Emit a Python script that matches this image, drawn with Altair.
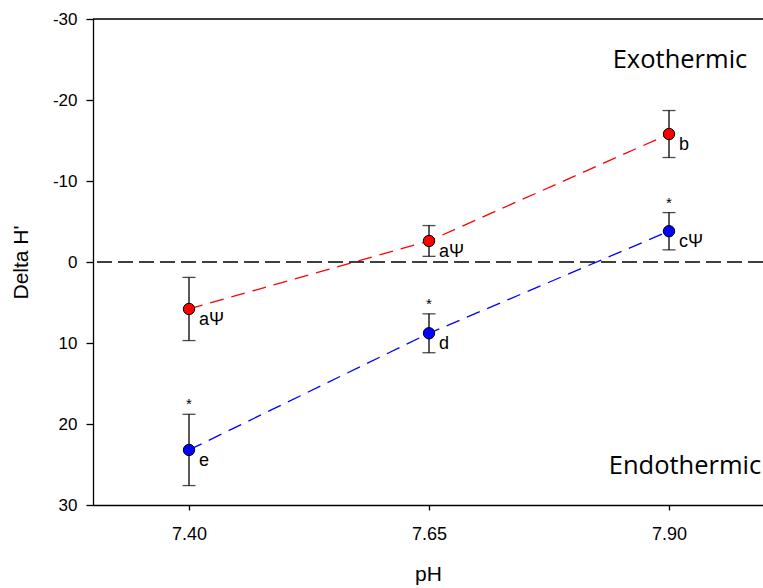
import altair as alt
import pandas as pd

ph = [7.40, 7.65, 7.90]
red_mean = [5.8, -2.6, -15.8]
red_err = [3.9, 1.9, 2.9]
red_lab = ["aΨ", "aΨ", "b"]
blue_mean = [23.2, 8.8, -3.8]
blue_err = [4.4, 2.4, 2.3]
blue_lab = ["e", "d", "cΨ"]
blue_star = ["*", "*", "*"]
y_ticks = [-30, -20, -10, 0, 10, 20, 30]

rows = []
for i in range(3):
    rows.append(dict(ph=ph[i], y=red_mean[i], lo=red_mean[i] - red_err[i], hi=red_mean[i] + red_err[i],
                     s="red", lab=red_lab[i], star=""))
    rows.append(dict(ph=ph[i], y=blue_mean[i], lo=blue_mean[i] - blue_err[i], hi=blue_mean[i] + blue_err[i],
                     s="blue", lab=blue_lab[i], star=blue_star[i]))
df = pd.DataFrame(rows)

W, H = 670, 486
xs = alt.Scale(domain=[7.3, 7.3 + W / 960], nice=False, zero=False)
ys = alt.Scale(domain=[-30, 30], reverse=True, nice=False)
col = alt.Scale(domain=["red", "blue"], range=["#ff0000", "#0000ff"])

X = alt.X("ph:Q", scale=xs, title="pH",
          axis=alt.Axis(values=ph, format=".2f", tickSize=5, labelPadding=15,
                        titlePadding=20, labelFontSize=18))
Y = alt.Y("y:Q", scale=ys, title="Delta H'",
          axis=alt.Axis(values=y_ticks, tickSize=7, labelPadding=9,
                        titlePadding=21, labelFontSize=17,
                        labelExpr="replace(datum.label, '\u2212', '-')"))

base = alt.Chart(df)

lines = base.mark_line(strokeDash=[14, 8], strokeWidth=1.3).encode(
    x=X, y=Y, color=alt.Color("s:N", scale=col, legend=None), detail="s:N")

zero = alt.Chart(pd.DataFrame({"z": [0]})).mark_rule(color="black", strokeDash=[15, 6], strokeWidth=1.3).encode(
    y=alt.Y("z:Q", scale=ys))

topline = alt.Chart(pd.DataFrame({"z": [0]})).mark_rule(color="black", strokeWidth=1.3).encode(
    x=alt.value(0), x2=alt.value(W), y=alt.value(0))

err = base.mark_rule(color="black", strokeWidth=1.3).encode(
    x=alt.X("ph:Q", scale=xs), y=alt.Y("lo:Q", scale=ys), y2="hi:Q")
cap_lo = base.mark_tick(color="black", orient="horizontal", size=13, thickness=1.3).encode(
    x=alt.X("ph:Q", scale=xs), y=alt.Y("lo:Q", scale=ys))
cap_hi = base.mark_tick(color="black", orient="horizontal", size=13, thickness=1.3).encode(
    x=alt.X("ph:Q", scale=xs), y=alt.Y("hi:Q", scale=ys))

pts = base.mark_point(filled=True, shape="circle", size=130, stroke="black", strokeWidth=1, opacity=1).encode(
    x=alt.X("ph:Q", scale=xs), y=alt.Y("y:Q", scale=ys),
    fill=alt.Color("s:N", scale=col, legend=None))

labs = base.mark_text(align="left", baseline="middle", dx=10, dy=11, fontSize=18,
                      font="Liberation Sans", color="black").encode(
    x=alt.X("ph:Q", scale=xs), y=alt.Y("y:Q", scale=ys), text="lab:N")

stars = base.mark_text(align="center", baseline="middle", dy=-10, fontSize=15,
                       font="Liberation Sans", color="black").encode(
    x=alt.X("ph:Q", scale=xs), y=alt.Y("lo:Q", scale=ys), text="star:N")

notes = alt.Chart(pd.DataFrame({"t": ["Exothermic", "Endothermic"], "px": [587, 592], "py": [49, 455]})).mark_text(
    align="center", baseline="alphabetic", fontSize=25.5, font="Open Sans", color="black").encode(
    x=alt.X("px:Q", scale=None), y=alt.Y("py:Q", scale=None), text="t:N")

chart = alt.layer(lines, zero, topline, err, cap_lo, cap_hi, pts, labs, stars, notes).properties(
    width=W, height=H,
    autosize=alt.AutoSizeParams(type="none"),
    padding={"left": 93, "top": 19, "right": 0, "bottom": 83},
).configure_view(stroke=None).configure(background="white").configure_axis(
    grid=False, labelFont="Liberation Sans", titleFont="Liberation Sans",
    domainColor="black", tickColor="black", labelColor="black", titleColor="black",
    domainWidth=1.3, tickWidth=1.3, titleFontWeight="normal", titleFontSize=21
)

chart.save("out.html", embed_options={"renderer": "svg", "actions": False})
